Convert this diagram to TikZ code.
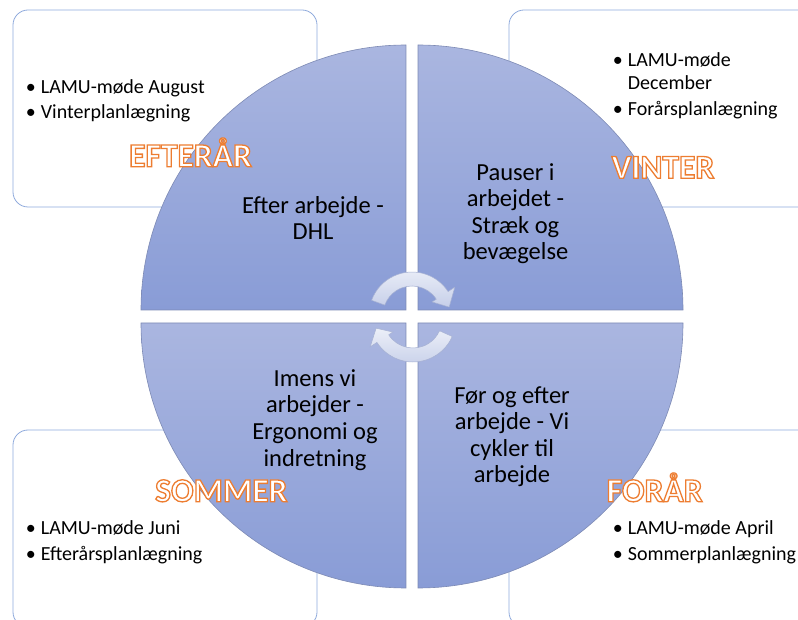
\documentclass[tikz,border=0pt]{standalone}
\usepackage{fontspec}
\setmainfont{Carlito}
\usetikzlibrary{calc}

\definecolor{boxline}{RGB}{143,170,220}
\definecolor{quadline}{RGB}{125,138,180}
\definecolor{quadtop}{RGB}{170,182,224}
\definecolor{quadbot}{RGB}{137,156,214}
\definecolor{cycline}{RGB}{165,176,210}
\definecolor{cyctop}{RGB}{236,239,248}
\definecolor{cycbot}{RGB}{198,207,233}
\definecolor{seasonorange}{RGB}{237,125,49}

\tikzset{
  box/.style={draw=boxline, line width=0.8pt, rounded corners=15pt},
  quad/.style={draw=quadline, line width=0.6pt, top color=quadtop, bottom color=quadbot},
  cyc/.style={draw=cycline, line width=0.5pt, top color=cyctop, bottom color=cycbot},
  item/.style={anchor=base west, inner sep=0pt, font=\fontsize{20}{24}\selectfont},
  phase/.style={anchor=base, inner sep=0pt, align=center, font=\fontsize{24.5}{26.6}\selectfont},
  season/.style={anchor=base, inner sep=0pt, font=\fontsize{33.5}{36}\selectfont\bfseries}
}
\newcommand{\bul}{\makebox[15pt][l]{\textbullet}}
% white letters with an orange outline (fill+stroke text mode)
\newcommand{\seasontxt}[1]{\textcolor{white}{\special{pdf:code 2 Tr 1.3 w 0.929 0.490 0.192 RG}#1\special{pdf:code 0 Tr}}}

\begin{document}
\begin{tikzpicture}[x=1pt,y=1pt]
  \useasboundingbox (0,0) rectangle (798,619);

  % boxes behind the circle
  \draw[box] (13,412) rectangle (317,609);
  \draw[box] (509,412) rectangle (830,609);
  \draw[box] (13,-8) rectangle (317,189);
  \draw[box] (509,-8) rectangle (830,189);

  % the four quarters
  \draw[quad] (406,309) -- ++(-265,0) arc[start angle=180, end angle=90, radius=265pt] -- cycle;
  \draw[quad] (418,309) -- ++(0,265) arc[start angle=90, end angle=0, radius=265pt] -- cycle;
  \draw[quad] (406,296) -- ++(0,-265) arc[start angle=270, end angle=180, radius=265pt] -- cycle;
  \draw[quad] (418,296) -- ++(265,0) arc[start angle=0, end angle=-90, radius=265pt] -- cycle;

  % cycle arrows
  \coordinate (cw) at (412,304);
  \coordinate (ccw) at (413,300);
  \draw[cyc] ([shift={(cw)}]160:43) arc[start angle=160, end angle=33, radius=43pt]
    -- ([shift={(cw)}]33:51) -- ([shift={(cw)}]12:38) -- ([shift={(cw)}]33:24)
    -- ([shift={(cw)}]33:29) arc[start angle=33, end angle=160, radius=29pt] -- cycle;
  \draw[cyc] ([shift={(ccw)}]-24:43) arc[start angle=-24, end angle=-147, radius=43pt]
    -- ([shift={(ccw)}]-147:51) -- ([shift={(ccw)}]-166:38) -- ([shift={(ccw)}]-147:24)
    -- ([shift={(ccw)}]-147:29) arc[start angle=-147, end angle=-24, radius=29pt] -- cycle;

  % box texts
  \node[item] (aug) at (25.7,525.7) {\bul LAMU-møde August};
  \node[item] (winplan) at (25.7,500) {\bul Vinterplanlægning};
  \node[item] (dec) at (612.7,552.3) {\bul LAMU-møde};
  \node[item] (dec2) at (627.7,529.7) {December};
  \node[item] (sprplan) at (612.7,503) {\bul Forårsplanlægning};
  \node[item] (jun) at (25.7,84.7) {\bul LAMU-møde Juni};
  \node[item] (autplan) at (25.7,58.3) {\bul Efterårsplanlægning};
  \node[item] (apr) at (612.7,84.7) {\bul LAMU-møde April};
  \node[item] (sumplan) at (612.7,59) {\bul Sommerplanlægning};

  % quarter texts (base = last line)
  \node[phase] (after) at (313,379) {Efter arbejde -\\DHL};
  \node[phase] (breaks) at (515.5,359) {Pauser i\\arbejdet -\\Stræk og\\bevægelse};
  \node[phase] (during) at (315,153) {Imens vi\\arbejder -\\Ergonomi og\\indretning};
  \node[phase] (commute) at (512,136) {Før og efter\\arbejde - Vi\\cykler til\\arbejde};

  % seasons
  \node[season] (autumn) at (190.5,452.3) {\seasontxt{EFTERÅR}};
  \node[season] (winter) at (663,440.7) {\seasontxt{VINTER}};
  \node[season] (summer) at (221.3,117.3) {\seasontxt{SOMMER}};
  \node[season] (spring) at (654.7,117.3) {\seasontxt{FORÅR}};
\end{tikzpicture}
\end{document}
